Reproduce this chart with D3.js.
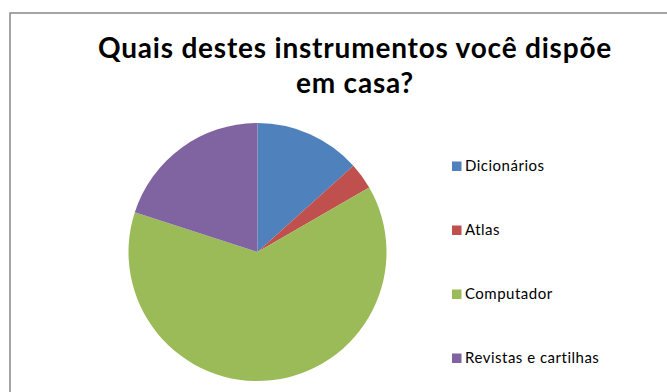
<!DOCTYPE html>
<html>
<head>
<meta charset="utf-8">
<script src="https://cdn.jsdelivr.net/npm/d3@7"></script>
<style>
  body { margin: 0; background: #fff; }
  svg { display: block; }
</style>
</head>
<body>
<script>
const categories = ['Dicionários', 'Atlas', 'Computador', 'Revistas e cartilhas']
const values = [8, 2, 38, 12]
const colors = ['#4F81BD', '#C0504D', '#9BBB59', '#8064A2']
const titleLines = ['Quais destes instrumentos você dispõe', 'em casa?']

const width = 667
const height = 392

const svg = d3.select('body')
  .append('svg')
  .attr('width', width)
  .attr('height', height)

// chart area border
svg.append('rect')
  .attr('x', 10)
  .attr('y', 13)
  .attr('width', width + 10)
  .attr('height', height + 10)
  .attr('fill', '#fff')
  .attr('stroke', '#888')
  .attr('stroke-width', 1.5)

svg.append('text')
  .attr('text-anchor', 'middle')
  .attr('font-family', 'Lato, sans-serif')
  .attr('font-weight', 'bold')
  .attr('font-size', 28)
  .attr('letter-spacing', 0.8)
  .attr('fill', '#000')
  .selectAll('tspan')
  .data(titleLines)
  .enter()
  .append('tspan')
  .attr('x', 355)
  .attr('y', (d, i) => 58 + i * 35)
  .text(d => d)

const color = d3.scaleOrdinal(categories, colors)

const pie = d3.pie().sort(null).value(d => d.value)
const arc = d3.arc().innerRadius(0).outerRadius(129)

const data = categories.map((c, i) => ({ name: c, value: values[i] }))

const main = svg.append('g')
  .attr('transform', 'translate(257.5,252)')

main.selectAll('path')
  .data(pie(data))
  .enter()
  .append('path')
  .attr('d', arc)
  .attr('fill', d => color(d.data.name))

const y = d3.scalePoint(categories, [166, 358])

const legend = svg.append('g')
  .selectAll('g')
  .data(categories)
  .enter()
  .append('g')
  .attr('transform', d => `translate(452,${y(d)})`)

legend.append('rect')
  .attr('x', 0)
  .attr('y', -4.5)
  .attr('width', 9.5)
  .attr('height', 9.5)
  .attr('fill', d => color(d))

legend.append('text')
  .attr('x', 13)
  .attr('y', 5)
  .attr('font-family', 'Lato, sans-serif')
  .attr('font-size', 15)
  .attr('letter-spacing', 0.5)
  .attr('fill', '#000')
  .text(d => d)
</script>
</body>
</html>
